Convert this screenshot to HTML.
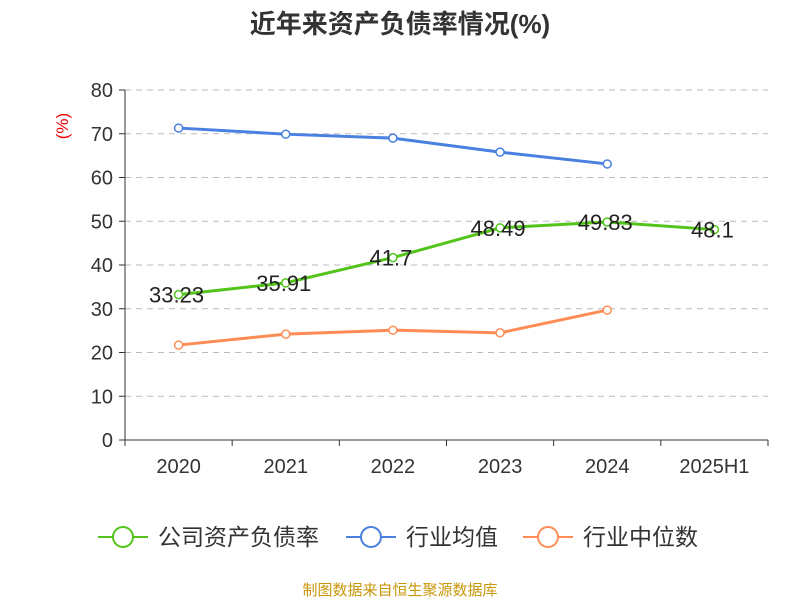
<!DOCTYPE html>
<html><head><meta charset="utf-8"><style>
body{margin:0;background:#fff;font-family:"Liberation Sans","Noto Sans CJK SC",sans-serif;}
</style></head><body>
<svg id="c" width="800" height="600" xmlns="http://www.w3.org/2000/svg" font-family="Liberation Sans, Noto Sans CJK SC, sans-serif">
<text x="400" y="33" text-anchor="middle" font-size="26" font-weight="bold" fill="#333">近年来资产负债率情况(%)</text>
<text x="68" y="126" font-size="17" fill="#e00" transform="rotate(-90 68 126)" text-anchor="middle">(%)</text>
<g id="grid"></g><g id="axes"></g><g id="series"></g>
<g>
<g><line x1="98" y1="537" x2="148" y2="537" stroke="#52c41a" stroke-width="2"/><circle cx="123" cy="537" r="10" fill="#fff" stroke="#52c41a" stroke-width="2"/><text x="158" y="545" font-size="23" fill="#333">公司资产负债率</text></g>
<g><line x1="346" y1="537" x2="396" y2="537" stroke="#4a80e0" stroke-width="2"/><circle cx="371" cy="537" r="10" fill="#fff" stroke="#4a80e0" stroke-width="2"/><text x="406" y="545" font-size="23" fill="#333">行业均值</text></g>
<g><line x1="523" y1="537" x2="573" y2="537" stroke="#ff8c55" stroke-width="2"/><circle cx="548" cy="537" r="10" fill="#fff" stroke="#ff8c55" stroke-width="2"/><text x="583" y="545" font-size="23" fill="#333">行业中位数</text></g>
</g>
<text x="400" y="595" text-anchor="middle" font-size="15" fill="#c8960a">制图数据来自恒生聚源数据库</text>
</svg>
<script>
const categories=["2020","2021","2022","2023","2024","2025H1"];
const company=[33.23,35.91,41.7,48.49,49.83,48.1];
const companyLabels=["33.23","35.91","41.7","48.49","49.83","48.1"];
const industryAvg=[71.3,69.9,69.0,65.8,63.1];
const industryMedian=[21.7,24.2,25.1,24.5,29.7];
const yTicks=[0,10,20,30,40,50,60,70,80];
const NS="http://www.w3.org/2000/svg";
const x0=125,x1=768,yb=440,yt=90;
const bw=(x1-x0)/categories.length;
const X=i=>x0+bw*(i+0.5);
const Y=v=>yb-(v/80)*(yb-yt);
function mk(t,a,p){const e=document.createElementNS(NS,t);for(const k in a)e.setAttribute(k,a[k]);p.appendChild(e);return e;}
const grid=document.getElementById('grid'),axes=document.getElementById('axes'),ser=document.getElementById('series');
yTicks.forEach(v=>{
 if(v>0){const g=mk('line',{x1:x0,x2:x1,y1:Y(v),y2:Y(v),stroke:'#bbb','stroke-dasharray':'6,5'},grid);
 }
 mk('line',{x1:x0-6,x2:x0,y1:Y(v),y2:Y(v),stroke:'#333'},axes);
 const t=mk('text',{x:x0-12,y:Y(v)+7,'text-anchor':'end','font-size':20,fill:'#333'},axes);t.textContent=v;
 
});
mk('line',{x1:x0,x2:x0,y1:yt,y2:yb,stroke:'#333'},axes);
mk('line',{x1:x0,x2:x1,y1:yb,y2:yb,stroke:'#333'},axes);
for(let i=0;i<=categories.length;i++)mk('line',{x1:x0+bw*i,x2:x0+bw*i,y1:yb,y2:yb+6,stroke:'#333'},axes);
categories.forEach((c,i)=>{const t=mk('text',{x:X(i),y:473,'text-anchor':'middle','font-size':20,fill:'#333'},axes);t.textContent=c;
 });
function line(vals,col,name){
 const p=mk('polyline',{points:vals.map((v,i)=>X(i)+','+Y(v)).join(' '),fill:'none',stroke:col,'stroke-width':3},ser);
 
 vals.forEach((v,i)=>{const c=mk('circle',{cx:X(i),cy:Y(v),r:4,fill:'#fff',stroke:col,'stroke-width':1.5},ser);
 });
}
line(industryAvg,'#4a80e0','industry-avg');
line(industryMedian,'#ff8c55','industry-median');
line(company,'#52c41a','company');
company.forEach((v,i)=>{const t=mk('text',{x:X(i)-2,y:Y(v)+8,'text-anchor':'middle','font-size':22,fill:'#222'},ser);t.textContent=companyLabels[i];
 });
</script>
</body></html>
